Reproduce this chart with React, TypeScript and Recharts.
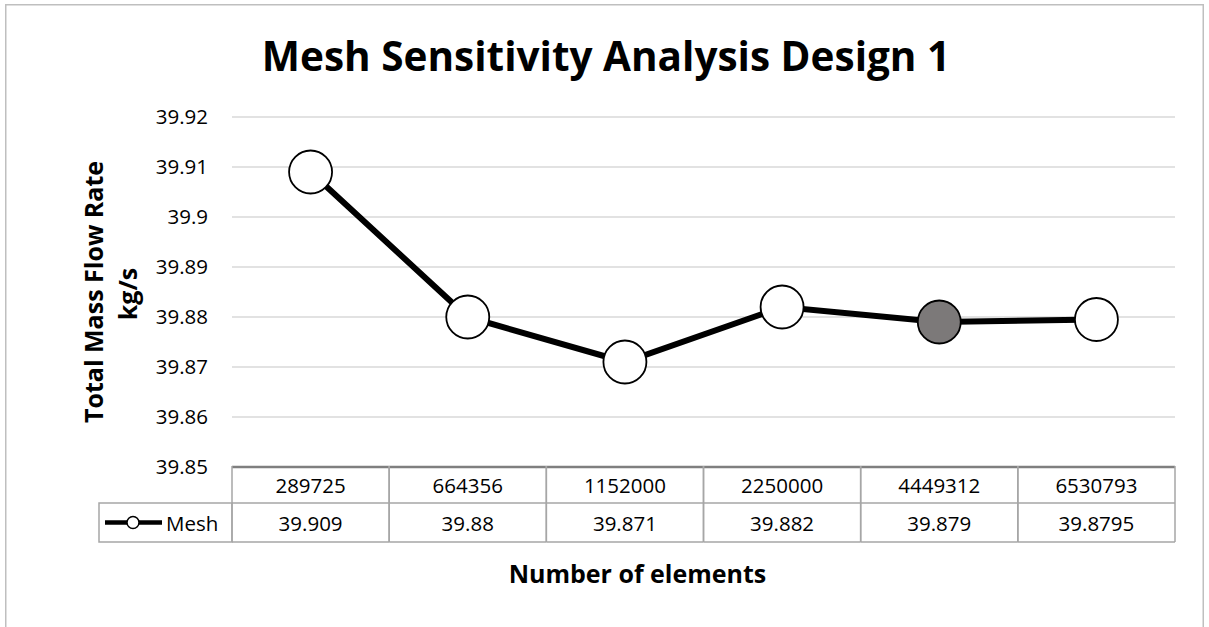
import React from 'react';
import { LineChart, Line, XAxis, YAxis, CartesianGrid } from 'recharts';

// Mesh sizes (number of elements) and the resulting total mass flow rate
const elementCounts = ['289725', '664356', '1152000', '2250000', '4449312', '6530793'];
const massFlowRate = [39.909, 39.88, 39.871, 39.882, 39.879, 39.8795];
const yTicks = [39.85, 39.86, 39.87, 39.88, 39.89, 39.9, 39.91, 39.92];
const seriesName = 'Mesh';
const highlightedIndex = 4;

const data = elementCounts.map((elements, i) => ({ elements, mass: massFlowRate[i] }));

const FONT = "'Open Sans', sans-serif";
const WIDTH = 1209;
const HEIGHT = 627;
const MARGIN = { top: 117, right: 34, left: 112, bottom: 85 };
const Y_AXIS_W = 120;
const X_AXIS_H = 75;
const PLOT_W = WIDTH - MARGIN.left - Y_AXIS_W - MARGIN.right;
const CELL_W = PLOT_W / elementCounts.length;
const GRID = '#a6a6a6';

// Each x tick draws one column of the data table below the plot
function TableTick(props: any) {
  const { x, y, payload, index } = props;
  const left = x - CELL_W / 2;
  const right = x + CELL_W / 2;
  const top = y - 1;
  const mid = y + 36;
  const bottom = y + 75;
  const value = massFlowRate[index];
  return (
    <g>
      <line x1={left} x2={left} y1={top} y2={bottom} stroke={GRID} strokeWidth={1.5} />
      <line x1={right} x2={right} y1={top} y2={bottom} stroke={GRID} strokeWidth={1.5} />
      <line x1={left} x2={right} y1={mid} y2={mid} stroke={GRID} strokeWidth={1.5} />
      <line x1={left} x2={right} y1={bottom} y2={bottom} stroke={GRID} strokeWidth={1.5} />
      <text x={x} y={y + 26} textAnchor="middle" fontFamily={FONT} fontSize={20.5} fill="#000">
        {payload.value}
      </text>
      <text x={x} y={y + 64} textAnchor="middle" fontFamily={FONT} fontSize={20.5} fill="#000">
        {String(value)}
      </text>
      {index === 0 && (
        <g>
          <rect x={99} y={mid} width={left - 99} height={bottom - mid} fill="none" stroke={GRID} strokeWidth={1.5} />
          <line x1={105} x2={162} y1={mid + 19.5} y2={mid + 19.5} stroke="#000" strokeWidth={4.5} />
          <circle cx={133} cy={mid + 19.5} r={6} fill="#fff" stroke="#000" strokeWidth={1.5} />
          <text x={166} y={y + 64} fontFamily={FONT} fontSize={20.5} fill="#000">
            {seriesName}
          </text>
        </g>
      )}
    </g>
  );
}

function MarkerDot(props: any) {
  const { cx, cy, index } = props;
  return (
    <circle
      key={`dot-${index}`}
      cx={cx}
      cy={cy}
      r={21.5}
      fill={index === highlightedIndex ? '#7c7979' : '#ffffff'}
      stroke="#000"
      strokeWidth={1.8}
    />
  );
}

export default function App() {
  return (
    <div style={{ position: 'absolute', left: 0, top: 0, width: WIDTH, height: HEIGHT, overflow: 'hidden', background: '#fff' }}>
      <LineChart width={WIDTH} height={HEIGHT} data={data} margin={MARGIN}>
        <rect x={5.75} y={4.75} width={1197.5} height={700} fill="none" stroke="#bfbfbf" strokeWidth={1.5} />
        <text x={606} y={71} textAnchor="middle" fontFamily={FONT} fontWeight="bold" fontSize={40.5} fill="#000">
          Mesh Sensitivity Analysis Design 1
        </text>
        <text transform="translate(103,292) rotate(-90)" textAnchor="middle" fontFamily={FONT} fontWeight="bold" fontSize={25} fill="#000">
          Total Mass Flow Rate
        </text>
        <text transform="translate(137,294) rotate(-90)" textAnchor="middle" fontFamily={FONT} fontWeight="bold" fontSize={25} fill="#000">
          kg/s
        </text>
        <text x={637.5} y={583} textAnchor="middle" fontFamily={FONT} fontWeight="bold" fontSize={25} fill="#000">
          Number of elements
        </text>
        <CartesianGrid vertical={false} stroke="#d9d9d9" strokeWidth={1.5} />
        <XAxis
          dataKey="elements"
          type="category"
          height={X_AXIS_H}
          interval={0}
          padding={{ left: CELL_W / 2, right: CELL_W / 2 }}
          tickLine={false}
          tickSize={0}
          tickMargin={0}
          axisLine={{ stroke: '#7f7f7f', strokeWidth: 2.5 }}
          tick={<TableTick />}
        />
        <YAxis
          type="number"
          width={Y_AXIS_W}
          domain={[39.85, 39.92]}
          ticks={yTicks}
          interval={0}
          allowDataOverflow
          axisLine={false}
          tickLine={false}
          tickSize={0}
          tickMargin={24}
          tick={{ fontFamily: FONT, fontSize: 20.5, fill: '#000' }}
        />
        <Line
          dataKey="mass"
          name={seriesName}
          stroke="#000"
          strokeWidth={6}
          dot={MarkerDot}
          activeDot={false}
          isAnimationActive={false}
        />
      </LineChart>
    </div>
  );
}
